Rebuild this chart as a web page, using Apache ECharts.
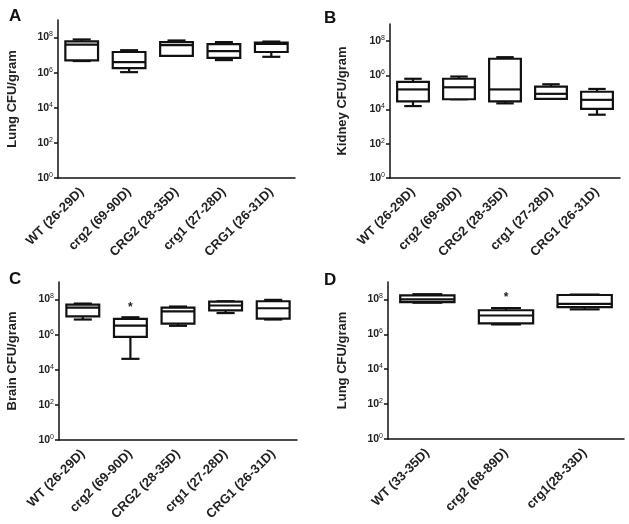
<!DOCTYPE html>
<html>
<head>
<meta charset="utf-8">
<script src="https://cdn.jsdelivr.net/npm/echarts@6/dist/echarts.min.js"></script>
<style>
html,body{margin:0;padding:0;background:#fff;}
#main{width:629px;height:524px;}
</style>
</head>
<body>
<div id="main"></div>
<script>
// Categories
const catsABC = ['WT (26-29D)', 'crg2 (69-90D)', 'CRG2 (28-35D)', 'crg1 (27-28D)', 'CRG1 (26-31D)'];
const catsD = ['WT (33-35D)', 'crg2 (68-89D)', 'crg1(28-33D)'];
// Y tick values (log axis)
const yTicks = [1, 1e2, 1e4, 1e6, 1e8];
// Box values: [min, Q1, median, Q3, max]
const boxesA = [
  [4.6e6, 5e6, 4e7, 6e7, 7.8e7],
  [1.07e6, 1.8e6, 4e6, 1.5e7, 1.9e7],
  [9e6, 9e6, 3.7e7, 5.5e7, 6.8e7],
  [5.2e6, 7e6, 1.7e7, 4.2e7, 5.5e7],
  [8e6, 1.5e7, 4.4e7, 5.2e7, 5.9e7]
];
const boxesB = [
  [1.6e4, 3e4, 1.5e5, 4.2e5, 6.3e5],
  [4e4, 4e4, 2e5, 6.3e5, 8.5e5],
  [2.3e4, 3e4, 1.5e5, 9.3e6, 1.15e7],
  [4.2e4, 4.2e4, 8.3e4, 2.2e5, 3e5],
  [5e3, 1.1e4, 3.7e4, 1.1e5, 1.6e5]
];
const boxesC = [
  [7.3e6, 1.1e7, 3.5e7, 5.2e7, 5.9e7],
  [4.2e4, 7.4e5, 3.3e6, 7.9e6, 9.8e6],
  [3.2e6, 4.3e6, 2.1e7, 3.5e7, 4e7],
  [1.7e7, 2.4e7, 4.6e7, 7.7e7, 8e7],
  [7.3e6, 8.3e6, 3.2e7, 8e7, 9.6e7]
];
const boxesD = [
  [6.5e7, 7e7, 1e8, 1.7e8, 2e8],
  [3.7e6, 4.2e6, 1.2e7, 2.4e7, 3.2e7],
  [2.7e7, 3.6e7, 5.6e7, 1.8e8, 1.9e8]
];
// Significance markers (*)
const sigA = [0, 0, 0, 0, 0];
const sigB = [0, 0, 0, 0, 0];
const sigC = [0, 1, 0, 0, 0];
const sigD = [0, 1, 0];
const yNames = ['Lung CFU/gram', 'Kidney CFU/gram', 'Brain CFU/gram', 'Lung CFU/gram'];
const letters = ['A', 'B', 'C', 'D'];

const FONT = "'Liberation Sans', Arial, Helvetica, sans-serif";

const panels = [
  {cats: catsABC, boxes: boxesA, sig: sigA, grid: {left: 58, top: 20, width: 237, height: 158}, gap: 39},
  {cats: catsABC, boxes: boxesB, sig: sigB, grid: {left: 390, top: 24, width: 230, height: 154}, gap: 41},
  {cats: catsABC, boxes: boxesC, sig: sigC, grid: {left: 59, top: 282, width: 238, height: 158}, gap: 40},
  {cats: catsD, boxes: boxesD, sig: sigD, grid: {left: 388, top: 282, width: 236, height: 157}, gap: 39}
];

function makeRender(sig) {
  return function (params, api) {
    const x = api.value(0);
    const pMin = api.coord([x, api.value(1)]);
    const pQ1 = api.coord([x, api.value(2)]);
    const pMed = api.coord([x, api.value(3)]);
    const pQ3 = api.coord([x, api.value(4)]);
    const pMax = api.coord([x, api.value(5)]);
    const band = api.size([1, 1])[0];
    const bw = band * 0.69;
    const cw = band * 0.38;
    const cx = pMed[0];
    const st = {stroke: '#111', lineWidth: 2.2, fill: null};
    const children = [
      {type: 'line', shape: {x1: cx, y1: pQ3[1], x2: cx, y2: pMax[1]}, style: st},
      {type: 'line', shape: {x1: cx, y1: pQ1[1], x2: cx, y2: pMin[1]}, style: st},
      {type: 'line', shape: {x1: cx - cw / 2, y1: pMax[1], x2: cx + cw / 2, y2: pMax[1]}, style: st},
      {type: 'line', shape: {x1: cx - cw / 2, y1: pMin[1], x2: cx + cw / 2, y2: pMin[1]}, style: st},
      {type: 'rect', shape: {x: cx - bw / 2, y: pQ3[1], width: bw, height: pQ1[1] - pQ3[1]},
        style: {stroke: '#111', lineWidth: 2.2, fill: '#fff'}},
      {type: 'line', shape: {x1: cx - bw / 2, y1: pMed[1], x2: cx + bw / 2, y2: pMed[1]}, style: st}
    ];
    if (sig[params.dataIndex]) {
      children.push({type: 'text', style: {text: '*', x: cx, y: pMax[1] - 4, align: 'center',
        verticalAlign: 'bottom', fontSize: 12, fontWeight: 'bold', fontFamily: FONT, fill: '#222'}});
    }
    return {type: 'group', children: children};
  };
}

const option = {
  backgroundColor: '#fff',
  animation: false,
  title: [
    {text: letters[0], left: 4, top: 3},
    {text: letters[1], left: 319, top: 5},
    {text: letters[2], left: 4, top: 266},
    {text: letters[3], left: 319, top: 267}
  ].map(t => Object.assign(t, {textStyle: {fontSize: 17, fontWeight: 'bold', color: '#111', fontFamily: FONT}})),
  grid: panels.map(p => p.grid),
  xAxis: panels.map((p, i) => ({
    type: 'category', gridIndex: i, data: p.cats,
    axisLine: {lineStyle: {color: '#111', width: 1.5}},
    axisTick: {alignWithLabel: true, length: 5, lineStyle: {color: '#111', width: 1.5}},
    axisLabel: {rotate: 45, margin: 12, fontSize: 13, fontWeight: 'bold', color: '#222', fontFamily: FONT, interval: 0},
    splitLine: {show: false}
  })),
  yAxis: panels.map((p, i) => ({
    type: 'log', logBase: 10, gridIndex: i, min: 1, max: 1e9,
    name: yNames[i], nameLocation: 'middle', nameGap: p.gap,
    nameTextStyle: {fontSize: 13, fontWeight: 'bold', color: '#222', fontFamily: FONT},
    axisLine: {show: true, lineStyle: {color: '#111', width: 1.5}},
    axisTick: {show: true, length: 4, customValues: yTicks, lineStyle: {color: '#111', width: 1.5}},
    axisLabel: {
      customValues: yTicks, margin: 5, color: '#222',
      formatter: v => '{b|10}{s|' + Math.round(Math.log10(v)) + '}',
      rich: {
        b: {fontSize: 10.5, fontWeight: 'bold', fontFamily: FONT, color: '#222'},
        s: {fontSize: 7, fontFamily: FONT, color: '#222', padding: [0, 0, 6, 0]}
      }
    },
    splitLine: {show: false}
  })),
  series: panels.map((p, i) => ({
    type: 'custom', xAxisIndex: i, yAxisIndex: i,
    renderItem: makeRender(p.sig),
    encode: {x: 0, y: [1, 2, 3, 4, 5]},
    data: p.boxes.map((b, j) => [j].concat(b))
  }))
};

const chart = echarts.init(document.getElementById('main'), null, {renderer: 'canvas'});
chart.setOption(option);
</script>
</body>
</html>
